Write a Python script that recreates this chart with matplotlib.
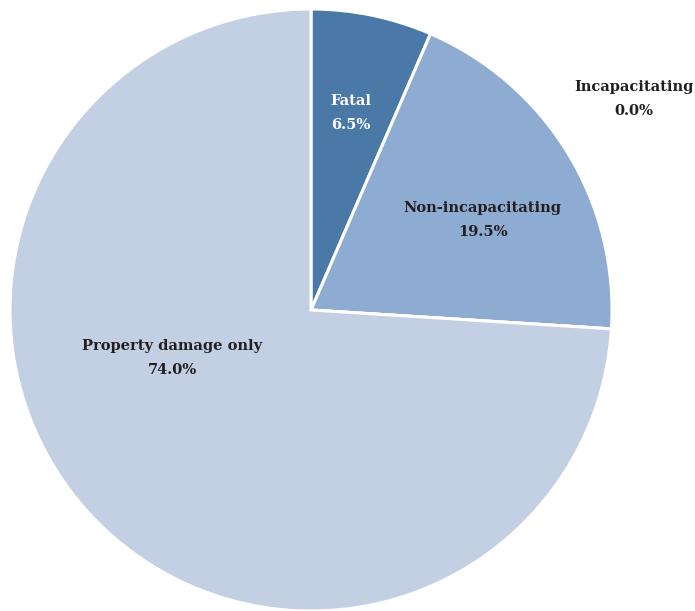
import matplotlib
matplotlib.use("Agg")
import matplotlib.pyplot as plt

categories = ["Fatal", "Non-incapacitating", "Incapacitating", "Property damage only"]
shares = [6.5, 19.5, 0.0, 74.0]
colors = ["#4a78a7", "#8eabd2", "#7f9cc6", "#c3cfe3"]
label_colors = ["white", "#231f20", "#231f20", "#231f20"]
# label anchor points in pie units (radius = 1)
label_pos = [(0.133, 0.655), (0.57, 0.30), (1.073, 0.70), (-0.46, -0.16)]

fig = plt.figure(figsize=(6.95, 6.11), dpi=100)
W, H = 695, 611
cx, cy, r = 311, 310, 301
ax = fig.add_axes([(cx - r) / W, (H - cy - r) / H, 2 * r / W, 2 * r / H])

ax.pie(shares, colors=colors, startangle=90, counterclock=False, radius=1,
       wedgeprops=dict(edgecolor="white", linewidth=2.2))
ax.set_xlim(-1, 1)
ax.set_ylim(-1, 1)
ax.set_aspect("equal")
ax.axis("off")

for name, val, (x, y), c in zip(categories, shares, label_pos, label_colors):
    ax.text(x, y, f"{name}\n{val:.1f}%", ha="center", va="center",
            fontsize=10.5, fontweight="bold", family="DejaVu Serif",
            color=c, linespacing=1.9, clip_on=False)

fig.savefig("out.png", dpi=100)
